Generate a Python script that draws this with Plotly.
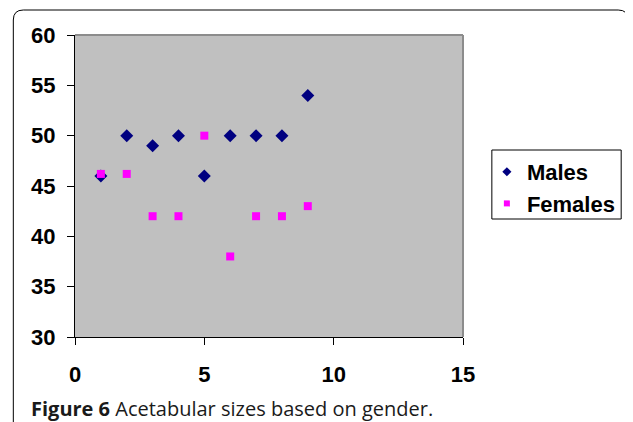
import plotly.graph_objects as go

x_vals = [1, 2, 3, 4, 5, 6, 7, 8, 9]
males = [46, 50, 49, 50, 46, 50, 50, 50, 54]
females = [46.2, 46.2, 42, 42, 50, 38, 42, 42, 43]
x_ticks = [0, 5, 10, 15]
y_ticks = [30, 35, 40, 45, 50, 55, 60]

OFF = 8  # page body margin in the browser (top/left)
W, H = 633 - OFF, 422 - OFF
L, R, T, B = 75 - OFF, 168, 35 - OFF, 85
pw, ph = W - L - R, H - T - B

def px(x):
    return (x - OFF - L) / pw

def py(y):
    return (H - B - (y - OFF)) / ph

fig = go.Figure()
fig.add_trace(go.Scatter(x=x_vals, y=males, mode="markers", name="Males",
                         showlegend=False,
                         marker=dict(symbol="diamond", size=10, color="#000080")))
fig.add_trace(go.Scatter(x=x_vals, y=females, mode="markers", name="Females",
                         showlegend=False,
                         marker=dict(symbol="square", size=8, color="#FF00FF")))
# legend entries with smaller symbols, as in the reference
fig.add_trace(go.Scatter(x=[None], y=[None], mode="markers", name="Males",
                         legendgroup="m",
                         marker=dict(symbol="diamond", size=7, color="#000080")))
fig.add_trace(go.Scatter(x=[None], y=[None], mode="markers", name="Females",
                         legendgroup="f",
                         marker=dict(symbol="square", size=6, color="#FF00FF")))

tickfont = dict(family="Liberation Sans, Arial", size=22, color="black", weight="bold")

fig.update_layout(
    width=W, height=H,
    margin=dict(l=L, r=R, t=T, b=B, pad=0),
    paper_bgcolor="white",
    plot_bgcolor="#C0C0C0",
    showlegend=True,
    legend=dict(x=px(489), y=py(151), xanchor="left", yanchor="top",
                borderwidth=0, bgcolor="rgba(0,0,0,0)",
                font=dict(family="Liberation Sans, Arial", size=22, color="black", weight="bold"),
                itemsizing="trace", itemwidth=30, tracegroupgap=0),
    xaxis=dict(range=[0, 15], tickvals=x_ticks, showgrid=False, zeroline=False,
               showline=True, linecolor="black", linewidth=1,
               ticks="outside", ticklen=7, tickcolor="black", tickwidth=1,
               tickfont=tickfont, ticklabelstandoff=11, fixedrange=True),
    yaxis=dict(range=[30, 60], tickvals=y_ticks, showgrid=False, zeroline=False,
               showline=True, linecolor="black", linewidth=1,
               ticks="outside", ticklen=7, tickcolor="black", tickwidth=1,
               tickfont=tickfont, ticklabelstandoff=7, fixedrange=True),
    shapes=[
        dict(type="line", xref="paper", yref="paper", x0=0, x1=1, y0=1, y1=1,
             line=dict(color="#8C8C8C", width=2), layer="above"),
        dict(type="line", xref="paper", yref="paper", x0=1, x1=1, y0=0, y1=1,
             line=dict(color="#8C8C8C", width=2), layer="above"),
        # legend frame
        dict(type="rect", xref="paper", yref="paper",
             x0=px(494), x1=px(624), y0=py(150), y1=py(219),
             line=dict(color="black", width=1), fillcolor="white", layer="below"),
        # outer frame
        dict(type="path", xref="paper", yref="paper",
             path=(f"M {px(13)} {py(430)} L {px(13)} {py(20)} "
                   f"Q {px(13)} {py(10)} {px(23)} {py(10)} "
                   f"L {px(621)} {py(10)} Q {px(631)} {py(10)} {px(631)} {py(20)}"),
             line=dict(color="black", width=1), layer="above"),
    ],
    annotations=[
        dict(xref="paper", yref="paper", x=px(29), y=py(409), xanchor="left", yanchor="middle",
             showarrow=False,
             text="<b>Figure 6</b> Acetabular sizes based on gender.",
             font=dict(family="Open Sans, Noto Sans", size=20, color="#1a1a1a")),
    ],
)

fig.write_html("out.html")
